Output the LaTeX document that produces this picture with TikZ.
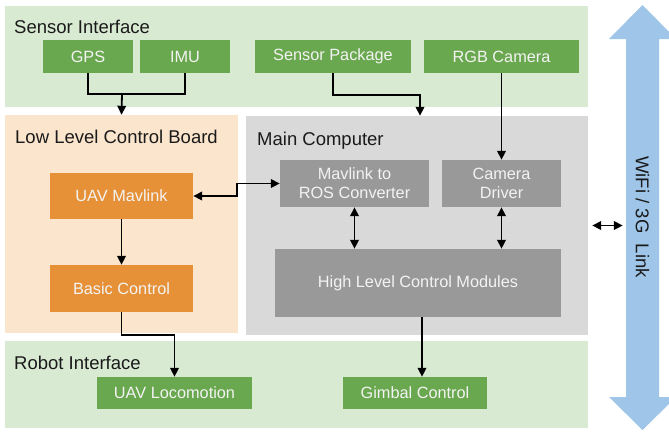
\documentclass[tikz,border=0pt]{standalone}
\usepackage{fontspec}
\setmainfont{Liberation Sans}
\usetikzlibrary{arrows.meta}
\definecolor{pgreen}{HTML}{D9EAD3}
\definecolor{bgreen}{HTML}{6AA84F}
\definecolor{porange}{HTML}{FCE5CD}
\definecolor{borange}{HTML}{E69138}
\definecolor{pgray}{HTML}{D9D9D9}
\definecolor{bgray}{HTML}{999999}
\definecolor{pblue}{HTML}{9FC5E8}
\definecolor{btext}{HTML}{F3F3F3}
\definecolor{ttext}{HTML}{1A1A1A}
\begin{document}
\begin{tikzpicture}[x=1pt,y=-1pt,
 panel/.style={draw=none, inner sep=0pt, rectangle},
 box/.style={inner sep=0pt, text=btext, font=\fontsize{16.3}{19}\selectfont, align=center},
 gbox/.style={box, fill=bgreen},
 obox/.style={box, fill=borange},
 ybox/.style={box, fill=bgray},
 title/.style={anchor=base west, inner sep=0pt, text=ttext, font=\fontsize{18.5}{22}\selectfont},
 arr/.style={line width=1.8pt, -{Triangle[length=9pt,width=8.5pt]}},
 darr/.style={line width=1.8pt, {Triangle[length=9pt,width=8.5pt]}-{Triangle[length=9pt,width=8.5pt]}},
]
\useasboundingbox (0,0) rectangle (669,432);
\fill[white] (0,0) rectangle (669,432);

% panels
\node[panel, fill=pgreen, minimum width=583pt, minimum height=101pt] (sensor) at (296.5,56.5) {};
\node[panel, fill=porange, minimum width=233pt, minimum height=218pt] (llcb) at (121.5,224) {};
\node[panel, fill=pgray, minimum width=342pt, minimum height=219pt] (main) at (417,225.5) {};
\node[panel, fill=pgreen, minimum width=583pt, minimum height=87pt] (robot) at (296.5,384.5) {};

% titles
\node[title] (tsensor) at (14,33) {Sensor Interface};
\node[title] (tllcb) at (15,143) {Low Level Control Board};
\node[title] (tmain) at (257,145) {Main Computer};
\node[title] (trobot) at (14,369) {Robot Interface};

% wifi arrow
\begin{scope}
\clip (0,0) rectangle (669,432);
\fill[pblue] (642.5,5) -- (676,39) -- (659,39) -- (659,397) -- (676,397) -- (642.5,430)
  -- (609,397) -- (626,397) -- (626,39) -- (609,39) -- cycle;
\end{scope}
\node[inner sep=0pt, minimum width=33pt, minimum height=358pt, text=ttext,
  font=\fontsize{18.5}{22}\selectfont] (wifi) at (642.5,217) {\rotatebox{-90}{WiFi / 3G\ \ Link}};

% boxes
\node[gbox, minimum width=90pt, minimum height=33pt] (gps) at (88,56.5) {GPS};
\node[gbox, minimum width=90pt, minimum height=33pt] (imu) at (185,56.5) {IMU};
\node[gbox, minimum width=156pt, minimum height=33pt] (spkg) at (333,56.5) {Sensor Package};
\node[gbox, minimum width=155pt, minimum height=33pt] (rgb) at (501.5,56.5) {RGB Camera};
\node[obox, minimum width=143pt, minimum height=46pt] (uavm) at (121.5,196) {UAV Mavlink};
\node[obox, minimum width=143pt, minimum height=47pt] (basic) at (121.5,288.5) {Basic Control};
\node[ybox, minimum width=149pt, minimum height=47pt] (mconv) at (354.5,183.5) {Mavlink to\\ROS Converter};
\node[ybox, minimum width=119pt, minimum height=47pt] (camdrv) at (501.5,183.5) {Camera\\Driver};
\node[ybox, minimum width=286pt, minimum height=68pt] (hlcm) at (418,283) {High Level Control Modules};
\node[gbox, minimum width=155pt, minimum height=32pt] (uavloc) at (174.5,393) {UAV Locomotion};
\node[gbox, minimum width=144pt, minimum height=32pt] (gimbal) at (415,393) {Gimbal Control};

% junction coordinates
\coordinate (j1) at (122,94);
\coordinate (j2) at (420,95);
\coordinate (gx) at (422,0);

% connectors
\draw[line width=1.8pt] (gps.south) |- (imu.south |- j1) -- (imu.south);
\draw[arr] (j1) -- (llcb.north);
\draw[arr] (spkg.south) |- (j2) -- (j2 |- main.north);
\draw[arr] (rgb.south) -- (camdrv.north);
\draw[darr] (uavm.east) -- ++(44,0) |- (mconv.west);
\draw[arr] (uavm.south) -- (basic.north);
\draw[arr] (basic.south) -- ++(0,23) -| (uavloc.north);
\draw[darr] (mconv.south) -- (mconv.south |- hlcm.north);
\draw[darr] (camdrv.south) -- (camdrv.south |- hlcm.north);
\draw[arr] (hlcm.south -| gx) -- (gimbal.north -| gx);
\draw[darr, shorten <=4pt, shorten >=3pt] (main.east) -- (main.east -| wifi.west);
\end{tikzpicture}
\end{document}
